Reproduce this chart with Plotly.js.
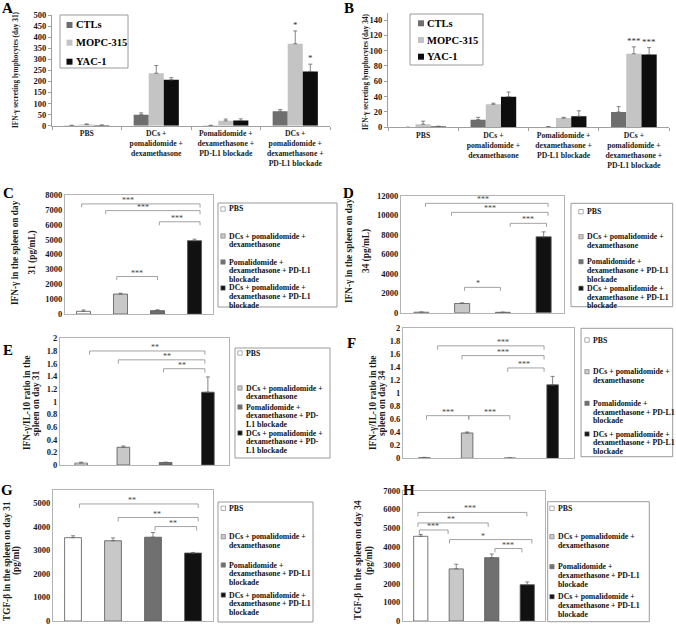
<!DOCTYPE html>
<html>
<head>
<meta charset="utf-8">
<script src="https://cdn.plot.ly/plotly-3.0.1.min.js"></script>
<style>
body{margin:0;background:#fff}
#graph{width:676px;height:630px}
</style>
</head>
<body>
<div id="graph"></div>
<script>
// 8 panel figure, all drawn on one plotly page

var W = 676, H = 630
var serif = 'Liberation Serif, Times New Roman, serif'

//////////////////////////////////////////////////////////
// Data

// panels A / B : lymphocytes per target
var groupLabels = ['PBS', 'DCs +<br>pomalidomide +<br>dexamethasone',
  'Pomalidomide +<br>dexamethasone +<br>PD-L1 blockade',
  'DCs +<br>pomalidomide +<br>dexamethasone +<br>PD-L1 blockade']
var targets = ['CTLs', 'MOPC-315', 'YAC-1']
var targetColors = ['#6e6e6e', '#c4c4c4', '#0d0d0d']

var A_ctl = [1, 50, 1, 65],        A_ctl_err = [1, 8, 1, 8]
var A_mopc = [5, 237, 22, 370],    A_mopc_err = [3, 35, 8, 58]
var A_yac = [2, 207, 23, 245],     A_yac_err = [1, 10, 8, 33]
var A_stars = [[3, 1, '*'], [3, 2, '*']]

var B_ctl = [0, 10, 0.5, 20],      B_ctl_err = [0, 3, 0.5, 7]
var B_mopc = [4, 30, 12, 96],      B_mopc_err = [4, 1.5, 1, 9]
var B_yac = [1, 40, 14.5, 95],     B_yac_err = [0.5, 6, 7, 9]
var B_stars = [[3, 1, '***'], [3, 2, '***']]

// panels C - H : one bar per treatment group
var groups = ['PBS', 'DCs + pomalidomide + dexamethasone',
  'Pomalidomide + dexamethasone + PD-L1 blockade',
  'DCs + pomalidomide + dexamethasone + PD-L1 blockade']
var groupColors = ['#ffffff', '#c8c8c8', '#707070', '#111111']

var C_val = [180, 1340, 225, 4930],   C_err = [90, 60, 60, 100]
var D_val = [50, 950, 40, 7800],      D_err = [20, 60, 15, 510]
var E_val = [0.03, 0.28, 0.04, 1.15], E_err = [0.015, 0.02, 0.005, 0.24]
var F_val = [0.01, 0.39, 0.005, 1.13], F_err = [0.005, 0.015, 0.002, 0.13]
var G_val = [3530, 3400, 3550, 2880], G_err = [80, 120, 200, 25]
var H_val = [4550, 2800, 3400, 1950], H_err = [100, 250, 200, 150]

// brackets: [from, to, level, stars, star position]
var C_br = [[-0.05, 3.15, 7400, '***', 1.21], [0.6, 3.15, 6950, '***', 1.61],
  [2.05, 3.15, 6200, '***', 2.52], [0.9, 2.0, 2520, '***', 1.44]]
var D_br = [[0.1, 3.11, 11245, '***', 1.51], [0.74, 3.11, 10320, '***', 1.69],
  [2.18, 3.07, 9190, '***', 2.62], [1.06, 1.94, 2606, '*', 1.39]]
var E_br = [[0.2, 2.93, 1.8, '**', 1.75], [0.88, 2.93, 1.66, '**', 2.03],
  [1.95, 2.93, 1.52, '**', 2.38]]
var F_br = [[0.31, 2.8, 1.73, '***', 1.83], [0.88, 2.8, 1.58, '***', 1.83],
  [1.95, 2.8, 1.39, '***', 2.34], [0.05, 1.04, 0.656, '***', 0.55],
  [1.04, 2.0, 0.656, '***', 1.53]]
var G_br = [[0.16, 3.13, 4959, '**', 1.47], [1.13, 3.13, 4384, '**', 2.09],
  [2.05, 3.09, 4000, '**', 2.51]]
var H_br = [[-0.08, 2.99, 5832, '***', 1.38], [-0.08, 1.9, 5266, '**', 0.86],
  [-0.04, 0.77, 4889, '***', 0.34], [0.81, 3.13, 4374, '*', 1.76],
  [2.09, 2.85, 3894, '***', 2.47]]

var legendStd = [['PBS'], ['DCs + pomalidomide +', 'dexamethasone'],
  ['Pomalidomide +', 'dexamethasone + PD-L1', 'blockade'],
  ['DCs + pomalidomide +', 'dexamethasone + PD-L1', 'blockade']]
var legendE = [['PBS'], ['DCs + pomalidomide +', 'dexamethasone'],
  ['Pomalidomide +', 'dexamethasone + PD-', 'L1 blockade'],
  ['DCs + pomalidomide +', 'dexamethasone + PD-', 'L1 blockade']]

//////////////////////////////////////////////////////////
// panel geometry (pixels: left, top, right, bottom)
var panels = [
  {n: 3, letter: 'C', lx: 8, ly: 193, box: [65, 195, 213, 314], range: [0, 8000], dtick: 1000, fmt: 'd',
   y: C_val, err: C_err, bw: 0.38, br: C_br, legend: legendStd,
   titles: [[15, 'IFN-γ in the spleen on day'], [31.5, '31 (pg/mL)']], ty: 253,
   lbox: [218, 203, 337, 307], ly0: [209, 236, 262, 288], sw: 223, tx: 226.5},
  {n: 4, letter: 'D', lx: 348, ly: 193, box: [401, 196, 564, 312.7], range: [0, 12000], dtick: 2000, fmt: 'd',
   y: D_val, err: D_err, bw: 0.37, br: D_br, legend: legendStd,
   titles: [[349, 'IFN-γ in the spleen on day'], [367, '34 (pg/mL)']], ty: 251,
   lbox: [571, 203.3, 672.7, 306.7], ly0: [211.7, 236.7, 261.7, 288.3], sw: 581, tx: 584.5},
  {n: 5, letter: 'E', lx: 8, ly: 350, box: [60, 338.3, 229, 465], range: [0, 2], dtick: 0.2, fmt: '',
   y: E_val, err: E_err, bw: 0.3, br: E_br, legend: legendE,
   titles: [[27, 'IFN-γ/IL-10 ratio in the'], [36, 'spleen on day 31']], ty: 403,
   lbox: [235, 348, 330, 458], ly0: [353, 388, 407, 433], sw: 240, tx: 243.5},
  {n: 6, letter: 'F', lx: 351, ly: 343, box: [403, 328.3, 574, 458.3], range: [0, 2], dtick: 0.2, fmt: '',
   y: F_val, err: F_err, bw: 0.27, br: F_br, legend: legendStd,
   titles: [[373, 'IFN-γ/IL-10 ratio in the'], [382, 'spleen on day 34']], ty: 403,
   lbox: [581, 328.3, 672.7, 456.7], ly0: [340, 371.7, 403.3, 434], sw: 587, tx: 590.5},
  {n: 7, letter: 'G', lx: 7, ly: 490, box: [53, 490, 213, 621], range: [0, 5550], dtick: 1000, fmt: 'd',
   y: G_val, err: G_err, bw: 0.42, br: G_br, legend: legendStd,
   titles: [[7, 'TGF-β in the spleen on day 31'], [16, '(pg/ml)']], ty: 561,
   lbox: [218, 502, 313, 622], ly0: [508.3, 536.7, 565, 595], sw: 223.3, tx: 226.7},
  {n: 8, letter: 'H', lx: 409, ly: 490, box: [403, 490.7, 545, 621], range: [0, 7000], dtick: 1000, fmt: 'd',
   y: H_val, err: H_err, bw: 0.4, br: H_br, legend: legendStd,
   titles: [[358, 'TGF-β in the spleen on day 34'], [369, '(pg/ml)']], ty: 560,
   lbox: [547.7, 501.7, 649.3, 621.7], ly0: [508.3, 536.7, 566.7, 596.7], sw: 552, tx: 556}
]

var bargap = 0.35

function px(p) { return p / W }
function py(p) { return 1 - p / H }
function axName(letter, n) { return n == 1 ? letter : letter + n }
function zeros(a) { return a.map(function() { return 0 }) }
function bold(size, color) { return {family: serif, size: size, weight: 'bold', color: color || '#1a1a1a'} }

var traces = []
var shapes = []
var annotations = []

var layout = {
  width: W, height: H,
  margin: {l: 0, r: 0, t: 0, b: 0},
  paper_bgcolor: '#ffffff',
  plot_bgcolor: 'rgba(0,0,0,0)',
  showlegend: false,
  barmode: 'group',
  bargap: bargap,
  bargroupgap: 0,
  font: {family: serif, color: '#1a1a1a'}
}

function letterAnno(t, x, y) {
  annotations.push({xref: 'paper', yref: 'paper', x: px(x), y: py(y), text: t, showarrow: false,
    xanchor: 'center', yanchor: 'middle', font: bold(15, '#000')})
}

function titleAnno(x, y, t, size) {
  annotations.push({xref: 'paper', yref: 'paper', x: px(x), y: py(y), text: t, showarrow: false,
    textangle: -90, xanchor: 'center', yanchor: 'middle', font: bold(size)})
}

//////////////////////////////////////////////////////////
// A and B (grouped)
var abPanels = [
  {n: 1, letter: 'A', lx: 7, ly: 8, box: [52, 15, 330, 125.7], range: [0, 500], dtick: 50,
   vals: [A_ctl, A_mopc, A_yac], errs: [A_ctl_err, A_mopc_err, A_yac_err], stars: A_stars,
   title: 'IFN-γ secreting lymphocytes (day 31)', tx: 15, ty: 70,
   lbox: [60, 15, 128, 68], ly0: [25, 42.7, 61.7], sw: 69.5, tx0: 74},
  {n: 2, letter: 'B', lx: 349, ly: 8, box: [388, 13.1, 669, 127.3], range: [0, 149], dtick: 20,
   vals: [B_ctl, B_mopc, B_yac], errs: [B_ctl_err, B_mopc_err, B_yac_err], stars: B_stars,
   title: 'IFN-γ secreting lymphocytes (day 34)', tx: 365, ty: 72,
   lbox: [410, 14, 483, 65], ly0: [23.3, 40, 56.7], sw: 421, tx0: 425}
]

abPanels.forEach(function(p) {
  var xa = axName('x', p.n), ya = axName('y', p.n)
  for (var t = 0; t < 3; t++) {
    traces.push({
      type: 'bar', x: groupLabels, y: p.vals[t], name: targets[t],
      xaxis: xa, yaxis: ya,
      marker: {color: targetColors[t], line: {width: 0}},
      error_y: {type: 'data', symmetric: false, array: p.errs[t], arrayminus: zeros(p.errs[t]),
        color: '#666', thickness: 0.8, width: 2},
      hoverinfo: 'y'
    })
  }
  layout['xaxis' + (p.n == 1 ? '' : p.n)] = {
    domain: [px(p.box[0]), px(p.box[2])], anchor: ya, type: 'category',
    showline: true, linecolor: '#a0a0a0', linewidth: 1,
    ticks: 'outside', tickson: 'boundaries', ticklen: 3, tickcolor: '#a0a0a0',
    tickfont: bold(7.7), showgrid: false, zeroline: false, fixedrange: true,
    ticklabeloverflow: 'allow'
  }
  layout['yaxis' + (p.n == 1 ? '' : p.n)] = {
    domain: [py(p.box[3]), py(p.box[1])], anchor: xa, range: p.range, dtick: p.dtick,
    showline: true, linecolor: '#a0a0a0', linewidth: 1,
    ticks: 'outside', ticklen: 3, tickcolor: '#a0a0a0',
    tickfont: bold(8.5), showgrid: false, zeroline: false, fixedrange: true,
    ticklabeloverflow: 'allow'
  }
  letterAnno(p.letter, p.lx, p.ly)
  titleAnno(p.tx, p.ty, p.title, 7.3)

  // stars above the bars, slot offset from bargap
  var slot = (1 - bargap) / 3
  p.stars.forEach(function(s) {
    var g = s[0], t = s[1]
    annotations.push({xref: xa, yref: ya, x: g + (t - 1) * slot, y: p.vals[t][g] + p.errs[t][g],
      text: s[2], showarrow: false, yanchor: 'bottom', yshift: -1, font: {family: serif, size: 9, color: '#333'}})
  })

  // legend box
  shapes.push({type: 'rect', xref: 'paper', yref: 'paper', x0: px(p.lbox[0]), x1: px(p.lbox[2]),
    y0: py(p.lbox[3]), y1: py(p.lbox[1]), line: {color: '#9a9a9a', width: 1}, fillcolor: 'rgba(0,0,0,0)'})
  for (var t = 0; t < 3; t++) {
    var yc = p.ly0[t]
    shapes.push({type: 'rect', xref: 'paper', yref: 'paper', x0: px(p.sw - 3), x1: px(p.sw + 3),
      y0: py(yc + 3), y1: py(yc - 3), line: {width: 0}, fillcolor: targetColors[t]})
    annotations.push({xref: 'paper', yref: 'paper', x: px(p.tx0), y: py(yc), text: targets[t],
      showarrow: false, xanchor: 'left', yanchor: 'middle', font: bold(10.5, '#000')})
  }
})

//////////////////////////////////////////////////////////
// C - H
panels.forEach(function(p) {
  var xa = axName('x', p.n), ya = axName('y', p.n)
  traces.push({
    type: 'bar', x: groups, y: p.y, width: p.bw,
    xaxis: xa, yaxis: ya,
    marker: {color: groupColors, line: {color: '#555', width: 0.8}},
    error_y: {type: 'data', symmetric: false, array: p.err, arrayminus: zeros(p.err),
      color: '#666', thickness: 0.8, width: 2},
    hoverinfo: 'y'
  })
  layout['xaxis' + p.n] = {
    domain: [px(p.box[0]), px(p.box[2])], anchor: ya, type: 'category',
    showline: true, mirror: true, linecolor: '#b4b4b4', linewidth: 1,
    showticklabels: false, ticks: '', showgrid: false, zeroline: false, fixedrange: true
  }
  layout['yaxis' + p.n] = {
    domain: [py(p.box[3]), py(p.box[1])], anchor: xa, range: p.range, dtick: p.dtick,
    tickformat: p.fmt, showline: true, mirror: true, linecolor: '#b4b4b4', linewidth: 1,
    ticks: '', tickfont: bold(8.5), showgrid: false, zeroline: false, fixedrange: true,
    ticklabeloverflow: 'allow'
  }
  letterAnno(p.letter, p.lx, p.ly)
  p.titles.forEach(function(t) { titleAnno(t[0], p.ty, t[1], 9.3) })

  // significance brackets
  var d = p.range[1] * 0.03
  var ln = {color: '#8c8c8c', width: 0.8}
  p.br.forEach(function(b) {
    shapes.push({type: 'line', xref: xa, yref: ya, x0: b[0], x1: b[1], y0: b[2], y1: b[2], line: ln})
    shapes.push({type: 'line', xref: xa, yref: ya, x0: b[0], x1: b[0], y0: b[2] - d, y1: b[2], line: ln})
    shapes.push({type: 'line', xref: xa, yref: ya, x0: b[1], x1: b[1], y0: b[2] - d, y1: b[2], line: ln})
    annotations.push({xref: xa, yref: ya, x: b[4], y: b[2], text: b[3], showarrow: false,
      yanchor: 'bottom', yshift: -3, font: {family: serif, size: 8, color: '#444'}})
  })

  // legend
  shapes.push({type: 'rect', xref: 'paper', yref: 'paper', x0: px(p.lbox[0]), x1: px(p.lbox[2]),
    y0: py(p.lbox[3]), y1: py(p.lbox[1]), line: {color: '#9a9a9a', width: 1}, fillcolor: 'rgba(0,0,0,0)'})
  var gap = 8.8
  p.legend.forEach(function(lines, i) {
    var y0 = p.ly0[i]
    shapes.push({type: 'rect', xref: 'paper', yref: 'paper', x0: px(p.sw - 2.2), x1: px(p.sw + 2.2),
      y0: py(y0 + 2.2), y1: py(y0 - 2.2), line: {color: '#777', width: 0.6}, fillcolor: groupColors[i]})
    lines.forEach(function(txt, k) {
      annotations.push({xref: 'paper', yref: 'paper', x: px(p.tx), y: py(y0 + k * gap), text: txt,
        showarrow: false, xanchor: 'left', yanchor: 'middle', font: bold(7.8, '#111')})
    })
  })
})

layout.shapes = shapes
layout.annotations = annotations

Plotly.newPlot('graph', traces, layout, {displayModeBar: false, staticPlot: true})
</script>
</body>
</html>
